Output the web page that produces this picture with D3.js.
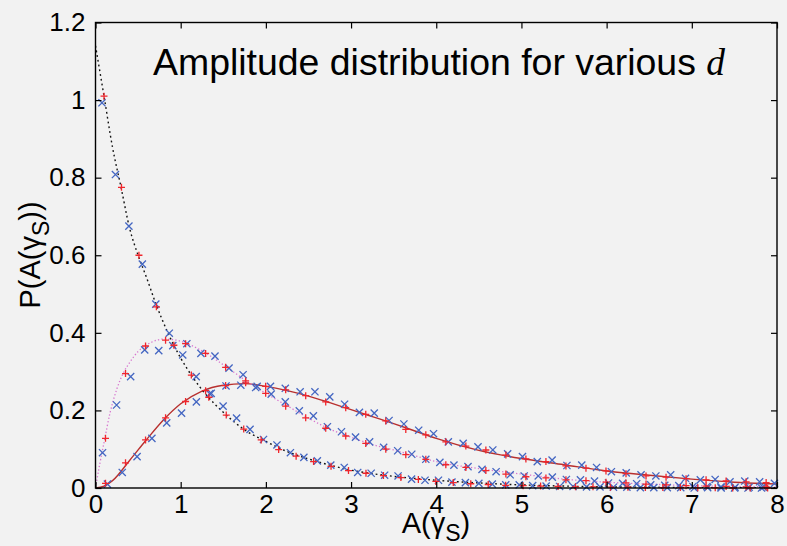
<!DOCTYPE html>
<html>
<head>
<meta charset="utf-8">
<script src="https://cdn.jsdelivr.net/npm/d3@7"></script>
<style>
  html, body { margin: 0; padding: 0; background: #f2f2f2; }
  svg { display: block; }
</style>
</head>
<body>
<svg id="chart" width="787" height="546"></svg>
<script>
// ---- axis ticks ----
const xTickValues = [0, 1, 2, 3, 4, 5, 6, 7, 8];
const xTickLabels = ["0", "1", "2", "3", "4", "5", "6", "7", "8"];
const yTickValues = [0, 0.2, 0.4, 0.6, 0.8, 1.0, 1.2];
const yTickLabels = ["0", "0.2", "0.4", "0.6", "0.8", "1", "1.2"];

// ---- theoretical densities (x, P) ----
// A: monotonically decaying (black dotted)
const curveA_x = [0, 0.1, 0.2, 0.3, 0.4, 0.5, 0.6, 0.7, 0.85, 1.0, 1.15, 1.3, 1.5, 1.75, 2.0, 2.25, 2.5, 2.75, 3.0, 3.25, 3.5, 4.0, 4.5, 5.0, 5.5, 6.0, 6.5, 7.0, 7.5, 8.0];
const curveA_y = [1.14, 1.01, 0.878, 0.775, 0.67, 0.60, 0.542, 0.48, 0.40, 0.335, 0.283, 0.240, 0.195, 0.150, 0.120, 0.094, 0.075, 0.059, 0.046, 0.037, 0.030, 0.020, 0.013, 0.008, 0.005, 0.003, 0.002, 0.001, 0.001, 0.0005];
// B: early peak (pink dotted)
const curveB_x = [0, 0.05, 0.1, 0.17, 0.25, 0.33, 0.4, 0.5, 0.65, 0.8, 0.95, 1.1, 1.3, 1.55, 1.77, 2.0, 2.25, 2.5, 2.75, 3.0, 3.25, 3.5, 3.75, 4.0, 4.5, 5.0, 5.5, 6.0, 6.5, 7.0, 7.5, 8.0];
const curveB_y = [0, 0.062, 0.117, 0.193, 0.255, 0.298, 0.323, 0.352, 0.375, 0.384, 0.381, 0.370, 0.347, 0.310, 0.276, 0.244, 0.212, 0.180, 0.152, 0.131, 0.112, 0.098, 0.083, 0.068, 0.050, 0.036, 0.023, 0.015, 0.010, 0.006, 0.004, 0.003];
// C: late peak (red solid)
const curveC_x = [0, 0.1, 0.2, 0.4, 0.6, 0.8, 1.0, 1.25, 1.5, 1.75, 2.0, 2.25, 2.5, 2.75, 3.0, 3.25, 3.5, 3.75, 4.0, 4.5, 5.0, 5.5, 6.0, 6.5, 7.0, 7.5, 8.0];
const curveC_y = [0, 0.005, 0.019, 0.071, 0.125, 0.176, 0.217, 0.250, 0.265, 0.269, 0.262, 0.251, 0.237, 0.220, 0.202, 0.184, 0.166, 0.147, 0.128, 0.097, 0.076, 0.060, 0.044, 0.033, 0.023, 0.015, 0.0103];

// ---- sampled histograms: first bin centre, bin width, heights ----
const plusA_x0 = 0.10, plusA_dx = 0.205;
const plusA = [1.01, 0.775, 0.60, 0.467, 0.368, 0.291, 0.234, 0.188, 0.152, 0.124, 0.099, 0.082, 0.068, 0.056, 0.045, 0.038, 0.032, 0.027, 0.022, 0.017, 0.014, 0.011, 0.009, 0.007, 0.006, 0.005, 0.004, 0.003, 0.003, 0.002, 0.002, 0.001, 0.001, 0.001, 0.0005, 0.0005, 0, 0, 0];
const crossA_x0 = 0.076, crossA_dx = 0.158;
const crossA = [0.993, 0.808, 0.675, 0.577, 0.474, 0.399, 0.343, 0.287, 0.243, 0.211, 0.180, 0.151, 0.125, 0.111, 0.091, 0.079, 0.070, 0.059, 0.053, 0.040, 0.038, 0.033, 0.031, 0.023, 0.020, 0.020, 0.015, 0.014, 0.012, 0.010, 0.008, 0.008, 0.006, 0.005, 0.004, 0.004, 0.003, 0.003, 0.002, 0.002, 0.001, 0.001, 0.001, 0.001, 0, 0.001, 0, 0, 0, 0];

const plusB_x0 = 0.1175, plusB_dx = 0.235;
const plusB = [0.128, 0.295, 0.366, 0.381, 0.372, 0.347, 0.311, 0.276, 0.244, 0.211, 0.181, 0.154, 0.134, 0.115, 0.100, 0.086, 0.074, 0.060, 0.053, 0.045, 0.036, 0.029, 0.026, 0.021, 0.019, 0.015, 0.013, 0.010, 0.008, 0.006, 0.005, 0.004, 0.003, 0.003];
const crossB_x0 = 0.0825, crossB_dx = 0.165;
const crossB = [0.091, 0.214, 0.287, 0.356, 0.354, 0.367, 0.372, 0.347, 0.340, 0.309, 0.292, 0.262, 0.242, 0.222, 0.199, 0.186, 0.158, 0.145, 0.131, 0.119, 0.105, 0.096, 0.087, 0.074, 0.066, 0.059, 0.055, 0.048, 0.042, 0.034, 0.031, 0.031, 0.028, 0.022, 0.021, 0.018, 0.013, 0.012, 0.011, 0.008, 0.007, 0.006, 0.004, 0.004, 0.003, 0.002, 0.002, 0.002];

const plusC_x0 = 0.1175, plusC_dx = 0.235;
const plusC = [0.012, 0.065, 0.124, 0.181, 0.223, 0.251, 0.264, 0.271, 0.262, 0.253, 0.238, 0.222, 0.207, 0.190, 0.173, 0.151, 0.137, 0.119, 0.108, 0.098, 0.085, 0.075, 0.068, 0.057, 0.051, 0.044, 0.037, 0.031, 0.028, 0.024, 0.021, 0.018, 0.016, 0.014];
const crossC_x0 = 0.14, crossC_dx = 0.174;
const crossC = [0.010, 0.040, 0.081, 0.128, 0.168, 0.193, 0.222, 0.244, 0.263, 0.265, 0.259, 0.262, 0.257, 0.248, 0.248, 0.235, 0.216, 0.195, 0.193, 0.174, 0.165, 0.149, 0.140, 0.119, 0.115, 0.106, 0.098, 0.088, 0.081, 0.068, 0.072, 0.058, 0.059, 0.053, 0.042, 0.039, 0.034, 0.031, 0.034, 0.025, 0.021, 0.022, 0.016, 0.018, 0.016, 0.012];

// ---- layout ----
const FONT = "'Liberation Sans', Arial, sans-serif";
const plot = { left: 95.5, top: 22.5, right: 777, bottom: 488 };

const svg = d3.select("#chart");
svg.append("rect").attr("width", 787).attr("height", 546).attr("fill", "#f2f2f2");

const x = d3.scaleLinear().domain([0, 8]).range([plot.left, plot.right]);
const y = d3.scaleLinear().domain([0, 1.2]).range([plot.bottom, plot.top]);

svg.append("defs").append("clipPath").attr("id", "plotClip")
  .append("rect")
  .attr("x", plot.left).attr("y", plot.top)
  .attr("width", plot.right - plot.left).attr("height", plot.bottom - plot.top);

// ---- curves ----
const line = d3.line().x(d => x(d[0])).y(d => y(d[1])).curve(d3.curveMonotoneX);
const zip = (xs, ys) => xs.map((v, i) => [v, ys[i]]);

const curves = svg.append("g").attr("clip-path", "url(#plotClip)").attr("fill", "none");
curves.append("path").datum(zip(curveC_x, curveC_y)).attr("d", line)
  .attr("stroke", "#b8302f").attr("stroke-width", 1.4);
curves.append("path").datum(zip(curveB_x, curveB_y)).attr("d", line)
  .attr("stroke", "#d776cf").attr("stroke-width", 1.3).attr("stroke-dasharray", "1.3,2.2");
curves.append("path").datum(zip(curveA_x, curveA_y)).attr("d", line)
  .attr("stroke", "#111").attr("stroke-width", 1.4).attr("stroke-dasharray", "1.8,3");

// ---- markers ----
const bins = (x0, dx, vals) => vals.map((v, i) => [x0 + i * dx, v]);
const crossPath = "M-3.6,-3.6L3.6,3.6M-3.6,3.6L3.6,-3.6";
const plusPath = "M-3.5,0H3.5M0,-3.5V3.5";

function drawMarkers(data, path, color) {
  svg.append("g")
    .selectAll("path")
    .data(data)
    .join("path")
    .attr("transform", d => `translate(${x(d[0])},${y(d[1])})`)
    .attr("d", path)
    .attr("fill", "none")
    .attr("stroke", color)
    .attr("stroke-width", 1.3);
}

drawMarkers(bins(crossA_x0, crossA_dx, crossA), crossPath, "#4466c2");
drawMarkers(bins(crossB_x0, crossB_dx, crossB), crossPath, "#4466c2");
drawMarkers(bins(crossC_x0, crossC_dx, crossC), crossPath, "#4466c2");
drawMarkers(bins(plusA_x0, plusA_dx, plusA), plusPath, "#f0262c");
drawMarkers(bins(plusB_x0, plusB_dx, plusB), plusPath, "#f0262c");
drawMarkers(bins(plusC_x0, plusC_dx, plusC), plusPath, "#f0262c");

// ---- axes (ticks pointing inward on all four sides) ----
function styleAxis(g, size) {
  g.select(".domain").remove();
  g.attr("font-family", FONT).attr("font-size", size);
  g.selectAll(".tick line").attr("stroke", "#000").attr("stroke-width", 1.2);
  g.selectAll(".tick text").attr("fill", "#000");
}

svg.append("g").attr("transform", `translate(0,${plot.bottom})`)
  .call(d3.axisBottom(x).tickValues(xTickValues).tickFormat((d, i) => xTickLabels[i]).tickSize(-6).tickPadding(7))
  .call(g => styleAxis(g, 26));
svg.append("g").attr("transform", `translate(0,${plot.top})`)
  .call(d3.axisTop(x).tickValues(xTickValues).tickFormat("").tickSize(-6))
  .call(g => styleAxis(g, 26));
svg.append("g").attr("transform", `translate(${plot.left},0)`)
  .call(d3.axisLeft(y).tickValues(yTickValues).tickFormat((d, i) => yTickLabels[i]).tickSize(-6).tickPadding(10))
  .call(g => styleAxis(g, 26));
svg.append("g").attr("transform", `translate(${plot.right},0)`)
  .call(d3.axisRight(y).tickValues(yTickValues).tickFormat("").tickSize(-6))
  .call(g => styleAxis(g, 26));

// frame
svg.append("rect")
  .attr("x", plot.left).attr("y", plot.top)
  .attr("width", plot.right - plot.left).attr("height", plot.bottom - plot.top)
  .attr("fill", "none").attr("stroke", "#000").attr("stroke-width", 1.4);

// ---- title (condensed to its line width) ----
const title = svg.append("text")
  .attr("x", 153).attr("y", 75)
  .attr("font-family", FONT).attr("font-size", 37).attr("fill", "#000")
  .attr("textLength", 572).attr("lengthAdjust", "spacingAndGlyphs");
title.append("tspan").text("Amplitude distribution for various ");
title.append("tspan")
  .attr("font-family", "'Liberation Serif', 'DejaVu Serif', serif")
  .attr("font-style", "italic").text("d");

// ---- axis labels ----
const xl = svg.append("text")
  .attr("x", 436).attr("y", 533).attr("text-anchor", "middle")
  .attr("font-family", FONT).attr("font-size", 29).attr("fill", "#000");
xl.append("tspan").text("A(γ");
xl.append("tspan").attr("font-size", 23).attr("dy", 8).text("S");
xl.append("tspan").attr("dy", -8).text(")");

const yl = svg.append("text")
  .attr("transform", "translate(40,255) rotate(-90)")
  .attr("text-anchor", "middle")
  .attr("font-family", FONT).attr("font-size", 29).attr("fill", "#000");
yl.append("tspan").text("P(A(γ");
yl.append("tspan").attr("font-size", 23).attr("dy", 9).text("S");
yl.append("tspan").attr("dy", -9).text("))");
</script>
</body>
</html>
